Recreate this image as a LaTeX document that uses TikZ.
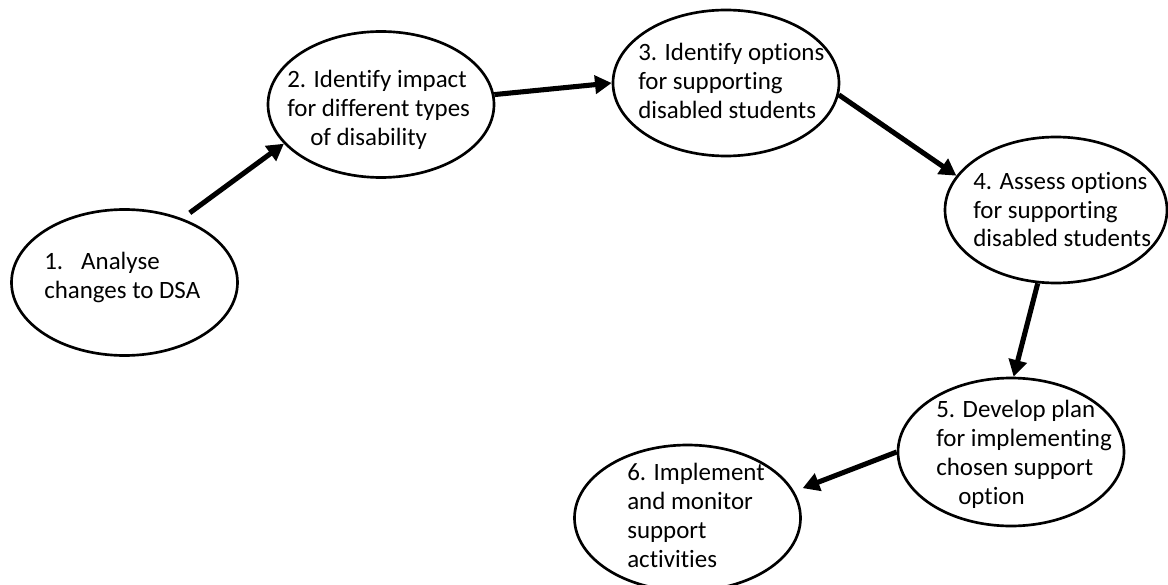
\documentclass[tikz,border=0pt]{standalone}
\usepackage{fontspec}
\setmainfont{Carlito}[Ligatures=NoCommon]
\usetikzlibrary{shapes.geometric,arrows.meta}
\newcommand{\stagelines}[1]{\begin{tabular}[t]{@{}l@{}}#1\end{tabular}}
\begin{document}
\begin{tikzpicture}[x=0.75pt,y=-0.75pt,
  stage/.style={draw, ellipse, line width=2pt, minimum width=169.5pt, minimum height=109.5pt, inner sep=0pt},
  txt/.style={anchor=base west, inner sep=0pt, font=\fontsize{18.7}{21.75}\selectfont},
  arr/.style={line width=3.8pt, -{Triangle[length=12.5pt,width=13.5pt]}}]
\useasboundingbox (0,0) rectangle (1168,585);

\node[stage] (s1) at (124.5,282.5) {};
\node[stage] (s2) at (381,104.5) {};
\node[stage] (s3) at (726,83) {};
\node[stage, minimum width=166.5pt] (s4) at (1056,210) {};
\node[stage, minimum height=111pt] (s5) at (1011,452) {};
\node[stage] (s6) at (687.5,518) {};

\node[txt] (t1) at (44,269) {\stagelines{\makebox[27.75pt][l]{1.}Analyse\\changes to DSA}};
\node[txt] (t2) at (287,88) {\stagelines{2. Identify impact\\for different types\\\hspace*{17.25pt}of disability}};
\node[txt] (t3) at (638,61) {\stagelines{3. Identify options\\for supporting\\disabled students}};
\node[txt] (t4) at (973,189) {\stagelines{4. Assess options\\for supporting\\disabled students}};
\node[txt] (t5) at (936,417) {\stagelines{5. Develop plan\\for implementing\\chosen support\\\hspace*{16.5pt}option}};
\node[txt] (t6) at (627,480) {\stagelines{6. Implement\\and monitor\\support\\activities}};

\draw[arr, shorten <=7pt] (s1.48.4) -- (s2.202.9);
\draw[arr] (s2.5.8) -- (s3.180);
\draw[arr] (s3.354) -- (s4.161.9);
\draw[arr] (s4.256.1) -- (s5.88.5);
\draw[arr, shorten >=6.75pt] (s5.180) -- (s6.14.8);
\end{tikzpicture}
\end{document}
